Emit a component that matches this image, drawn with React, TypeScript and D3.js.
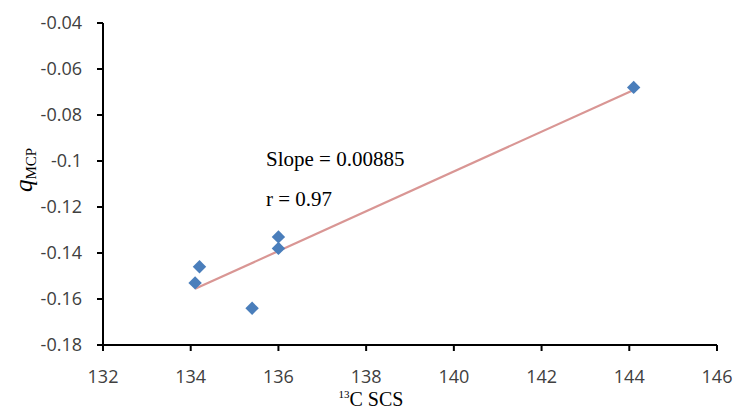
import * as d3 from "d3";

// measured points (13C SCS vs q_MCP)
const scs = [134.1, 134.2, 135.4, 136.0, 136.0, 144.1];
const qmcp = [-0.153, -0.146, -0.164, -0.133, -0.138, -0.068];

const xTicks = [132, 134, 136, 138, 140, 142, 144, 146];
const yTicks = [-0.04, -0.06, -0.08, -0.1, -0.12, -0.14, -0.16, -0.18];

const slopeLabel = "Slope = 0.00885";
const rLabel = "r = 0.97";

const W = 736;
const H = 412;

export default function App() {
  const x = d3.scaleLinear().domain([132, 146]).range([103, 717]);
  const y = d3.scaleLinear().domain([-0.18, -0.04]).range([345, 23]);

  // least-squares trend line through the points
  const mx = d3.mean(scs)!;
  const my = d3.mean(qmcp)!;
  const sxy = d3.sum(scs, (v, i) => (v - mx) * (qmcp[i] - my));
  const sxx = d3.sum(scs, (v) => (v - mx) * (v - mx));
  const b = sxy / sxx;
  const a = my - b * mx;
  const [x0, x1] = d3.extent(scs) as [number, number];
  const trend = d3.line<number>()
    .x((d) => x(d))
    .y((d) => y(a + b * d))([x0, x1]);

  const diamond = d3.symbol(d3.symbolSquare, 90)()!;
  const tickFont = "'Open Sans', 'Noto Sans', sans-serif";
  const serif = "'Liberation Serif', 'DejaVu Serif', serif";
  // plain hyphen minus, like the original
  const fmtY = (t: number) => String(t);

  return (
    <svg width={W} height={H} style={{ position: "absolute", left: 0, top: 0, background: "#fff" }}>
      <rect width={W} height={H} fill="#fff" />

      {/* y axis */}
      <g>
        <line x1={x(132)} x2={x(132)} y1={y(-0.04)} y2={y(-0.18)} stroke="#000" strokeWidth={2} />
        {yTicks.map((t) => (
          <g key={t}>
            <line x1={x(132) - 6} x2={x(132)} y1={y(t)} y2={y(t)} stroke="#000" strokeWidth={2} />
            <text x={82} y={y(t)} dy="0.35em" textAnchor="end" fontFamily={tickFont} fontSize={18} fill="#404040">
              {fmtY(t)}
            </text>
          </g>
        ))}
      </g>

      {/* x axis */}
      <g>
        <line x1={x(132) - 6} x2={x(146)} y1={y(-0.18)} y2={y(-0.18)} stroke="#000" strokeWidth={2} />
        {xTicks.map((t) => (
          <g key={t}>
            <line x1={x(t)} x2={x(t)} y1={y(-0.18)} y2={y(-0.18) + 6} stroke="#000" strokeWidth={2} />
            <text x={x(t)} y={383} textAnchor="middle" fontFamily={tickFont} fontSize={18} fill="#404040">
              {t}
            </text>
          </g>
        ))}
      </g>

      {/* trend line */}
      <path d={trend ?? ""} fill="none" stroke="#d99694" strokeWidth={2.2} />

      {/* points */}
      {scs.map((v, i) => (
        <path key={i} d={diamond} transform={`translate(${x(v)},${y(qmcp[i])}) rotate(45)`} fill="#4a7ebb" />
      ))}

      {/* annotations */}
      <text x={266} y={166} fontFamily={serif} fontSize={21} fill="#000">{slopeLabel}</text>
      <text x={266} y={206} fontFamily={serif} fontSize={21} fill="#000">{rLabel}</text>

      {/* axis titles */}
      <text transform={`translate(32,170) rotate(-90)`} textAnchor="middle" fontFamily={serif} fill="#000">
        <tspan fontStyle="italic" fontSize={25}>q</tspan>
        <tspan fontSize={15} dy={4}>MCP</tspan>
      </text>
      <text x={371} y={406} textAnchor="middle" fontFamily={serif} fill="#000">
        <tspan fontSize={11} dy={-8}>13</tspan>
        <tspan fontSize={20} dy={8}>C SCS</tspan>
      </text>
    </svg>
  );
}
